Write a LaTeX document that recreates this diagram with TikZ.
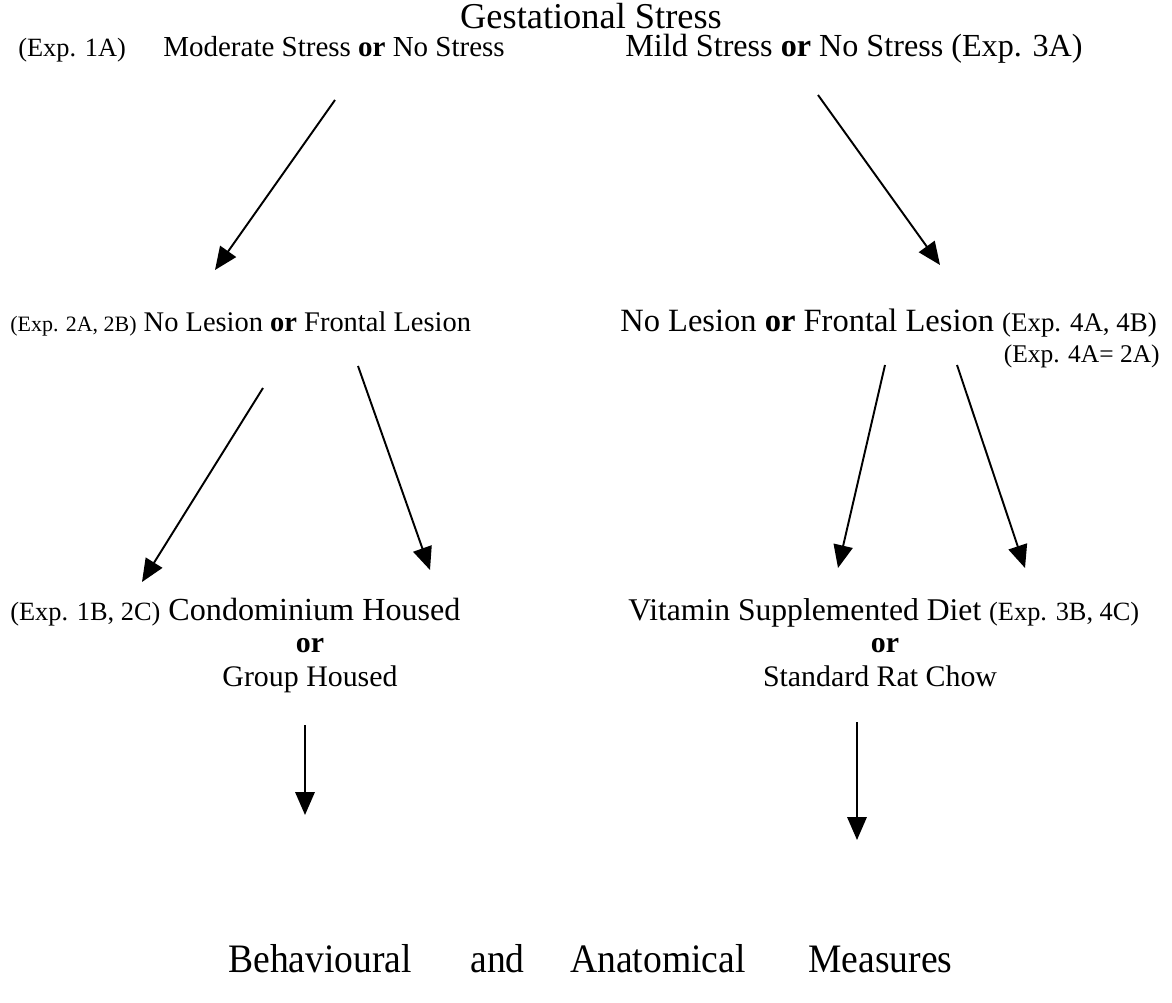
\documentclass[tikz,border=0pt]{standalone}
\usepackage{fontspec}
\setmainfont{Liberation Serif}
\newfontfamily\narrowserif[FakeStretch=0.93]{Liberation Serif}
\usetikzlibrary{arrows.meta}

\newcommand{\sizedfont}[1]{\fontsize{#1}{#1}\selectfont}
\newcommand{\titlefont}{\sizedfont{20.7}}
\newcommand{\measurefont}{\narrowserif\sizedfont{23}}

\begin{document}
\begin{tikzpicture}[x=0.02cm,y=-0.02cm,
    flowarrow/.style={line width=1.1pt,-{Triangle[length=13pt,width=11pt]}},
    rowtext/.style={inner sep=0pt,anchor=base west},
    midtext/.style={inner sep=0pt,anchor=base}]
        \newcommand{\figrowa}{57}
        \newcommand{\figrowb}{332}
        \newcommand{\figrowc}{620}
        \newcommand{\figrowd}{972}
        \useasboundingbox (0,0) rectangle (1172,1003);
        % labels
        \node[midtext,font=\titlefont] (gest) at (591,29) {Gestational Stress};
        \node[rowtext,font=\sizedfont{15}] (expone) at (18,\figrowa) {(Exp. 1A)};
        \node[rowtext,font=\sizedfont{16.5}] (modstress) at (163,\figrowa) {Moderate Stress \textbf{or} No Stress};
        \node[rowtext,font=\sizedfont{18.3}] (mildstress) at (625,\figrowa) {Mild Stress \textbf{or} No Stress (Exp. 3A)};
        \node[rowtext,font=\sizedfont{16.2}] (lesleft) at (10,\figrowb) {{\sizedfont{12.5}(Exp. 2A, 2B)} No Lesion \textbf{or} Frontal Lesion};
        \node[rowtext,font=\sizedfont{18.5}] (lesright) at (620,\figrowb) {No Lesion \textbf{or} Frontal Lesion {\sizedfont{15.3}(Exp. 4A, 4B)}};
        \node[inner sep=0pt,anchor=base east,font=\sizedfont{14.5}] (lesnote) at (1160,\figrowb+30) {(Exp. 4A= 2A)};
        \node[rowtext,font=\sizedfont{18.3}] (condo) at (10,\figrowc) {{\sizedfont{15}(Exp. 1B, 2C)} Condominium Housed};
        \node[midtext,font=\sizedfont{17}] (orleft) at (310,\figrowc+32) {\textbf{or}};
        \node[midtext,font=\sizedfont{17}] (group) at (310,\figrowc+66) {Group Housed};
        \node[rowtext,font=\sizedfont{18}] (vitamin) at (628,\figrowc) {Vitamin Supplemented Diet {\sizedfont{15}(Exp. 3B, 4C)}};
        \node[midtext,font=\sizedfont{17}] (orright) at (885,\figrowc+32) {\textbf{or}};
        \node[midtext,font=\sizedfont{17}] (chow) at (880,\figrowc+66) {Standard Rat Chow};
        \node[rowtext,font=\measurefont] (behav) at (228,\figrowd) {Behavioural};
        \node[rowtext,font=\measurefont] (andword) at (470,\figrowd) {and};
        \node[rowtext,font=\measurefont] (anat) at (570,\figrowd) {Anatomical};
        \node[rowtext,font=\measurefont] (measures) at (808,\figrowd) {Measures};
        % arrow ends
        \coordinate (modtail) at (335,100);
        \coordinate (modhead) at (215,270);
        \coordinate (mildtail) at (818,95);
        \coordinate (mildhead) at (940,265);
        \coordinate (lesltaila) at (263,388);
        \coordinate (lesrheada) at (142,582);
        \coordinate (lesltailb) at (358,366);
        \coordinate (lesrheadb) at (430,570);
        \coordinate (lesrtaila) at (885,365);
        \coordinate (lesrheadc) at (838,568);
        \coordinate (lesrtailb) at (957,365);
        \coordinate (lesrheadd) at (1025,568);
        \coordinate (grouptail) at (305,725);
        \coordinate (grouphead) at (305,815);
        \coordinate (chowtail) at (857,722);
        \coordinate (chowhead) at (857,840);
        \draw[flowarrow] (modtail) -- (modhead);
        \draw[flowarrow] (mildtail) -- (mildhead);
        \draw[flowarrow] (lesltaila) -- (lesrheada);
        \draw[flowarrow] (lesltailb) -- (lesrheadb);
        \draw[flowarrow] (lesrtaila) -- (lesrheadc);
        \draw[flowarrow] (lesrtailb) -- (lesrheadd);
        \draw[flowarrow] (grouptail) -- (grouphead);
        \draw[flowarrow] (chowtail) -- (chowhead);
    \end{tikzpicture}
\end{document}
